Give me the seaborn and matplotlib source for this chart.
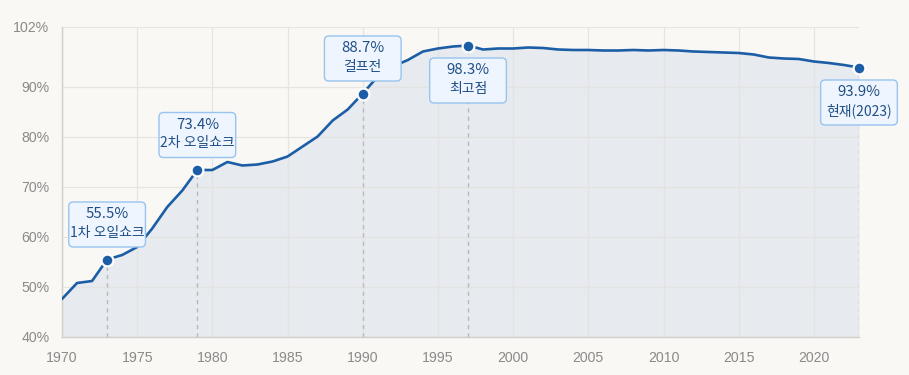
import matplotlib
matplotlib.use("Agg")
import matplotlib.pyplot as plt
from matplotlib.patches import FancyBboxPatch
from matplotlib.ticker import FuncFormatter
import seaborn as sns

# ── Data ───────────────────────────────────────────────
years = list(range(1970, 2024))
rate = [
    47.6, 50.8, 51.2, 55.5, 56.4, 58.0, 61.7, 66.0, 69.3, 73.4,
    73.4, 75.0, 74.3, 74.5, 75.1, 76.1, 78.1, 80.1, 83.3, 85.5,
    88.7, 92.1, 94.1, 95.4, 97.1, 97.7, 98.1, 98.3, 97.5, 97.7,
    97.7, 97.9, 97.8, 97.5, 97.4, 97.4, 97.3, 97.3, 97.4, 97.3,
    97.4, 97.3, 97.1, 97.0, 96.9, 96.8, 96.5, 95.9, 95.7, 95.6,
    95.1, 94.8, 94.4, 93.9,
]
event_years = [1973, 1979, 1990, 1997, 2023]
event_labels = ["1차 오일쇼크", "2차 오일쇼크", "걸프전", "최고점", "현재(2023)"]
event_above = [True, True, True, False, False]

y_ticks = [40, 50, 60, 70, 80, 90, 102]
x_ticks = [1970, 1975, 1980, 1985, 1990, 1995, 2000, 2005, 2010, 2015, 2020]

# ── Style ──────────────────────────────────────────────
BG = "#f9f8f5"
LINE = "#1c5ea6"
FILL = "#e7eaee"
GRID = "#e3e3e1"
TEXT = "#1f4f86"

sns.set_style("white")
plt.rcParams["font.family"] = ["Liberation Sans", "Noto Sans CJK KR", "DejaVu Sans"]

fig = plt.figure(figsize=(9.09, 3.75), dpi=100, facecolor=BG)
ax = fig.add_axes([62 / 909, 38 / 375, 797 / 909, 310 / 375])
ax.set_facecolor(BG)

ax.fill_between(years, rate, 40, color=FILL, zorder=1, lw=0)
sns.lineplot(x=years, y=rate, ax=ax, color=LINE, linewidth=1.9, zorder=4)

ax.set_xlim(1970, 2023)
ax.set_ylim(40, 102)
ax.set_xticks(x_ticks)
ax.set_yticks(y_ticks)
ax.yaxis.set_major_formatter(FuncFormatter(lambda v, p: f"{v:.0f}%"))
ax.grid(True, color=GRID, linewidth=0.9, zorder=2)
ax.set_axisbelow(False)
for gl in ax.get_xgridlines() + ax.get_ygridlines():
    gl.set_zorder(2)
    gl.set_alpha(0.9)

for side in ["top", "right"]:
    ax.spines[side].set_visible(False)
for side in ["left", "bottom"]:
    ax.spines[side].set_color("#cfcfcc")
    ax.spines[side].set_linewidth(1.0)
    ax.spines[side].set_zorder(3)

ax.tick_params(axis="y", length=6, color=GRID, pad=3, labelsize=10.2, labelcolor="#8a8a88")
ax.tick_params(axis="x", length=4, color=GRID, pad=6, labelsize=10.2, labelcolor="#8a8a88")
ax.set_xlabel("")
ax.set_ylabel("")

# ── Event markers & callouts ───────────────────────────
val_of = dict(zip(years, rate))
for yr, lab, above in zip(event_years, event_labels, event_above):
    v = val_of[yr]
    ax.plot([yr, yr], [40, v], color="#b9b9b9", lw=1.0, ls=(0, (3, 3)), zorder=3)
    ax.plot(yr, v, "o", ms=8.5, mfc=LINE, mec="white", mew=1.6, zorder=6, clip_on=False)

    cy = v + 7.0 if above else v - 7.0
    w, h = 5.1, 9.0
    box = FancyBboxPatch((yr - w / 2, cy - h / 2), w, h,
                         boxstyle="round,pad=0,rounding_size=0.3",
                         mutation_aspect=3,
                         fc="#eef5fe", ec="#98c3ee", lw=1.0,
                         zorder=7, clip_on=False)
    ax.add_patch(box)
    ax.text(yr, cy + 2.0, f"{v:.1f}%", ha="center", va="center",
            fontsize=10.8, color=TEXT, family=["Noto Sans CJK KR"],
            zorder=8, clip_on=False)
    ax.text(yr, cy - 1.7, lab, ha="center", va="center",
            fontsize=10, color=TEXT, family=["Noto Sans CJK KR"],
            zorder=8, clip_on=False)

fig.savefig("out.png", dpi=100, facecolor=BG)
plt.close(fig)
